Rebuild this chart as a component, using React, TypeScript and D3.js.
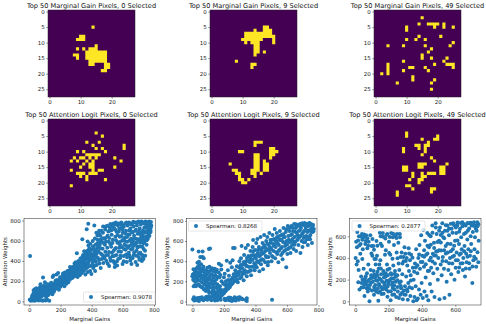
import React, { useEffect, useRef } from "react";
import * as d3 from "d3";

type Rows = [number, number[]][];
type Pt = [number, number];

const gridTicks = [0, 5, 10, 15, 20, 25];
const gridXTicks = [0, 10, 20];

const gridTitles = [
  "Top 50 Marginal Gain Pixels, 0 Selected",
  "Top 50 Marginal Gain Pixels, 9 Selected",
  "Top 50 Marginal Gain Pixels, 49 Selected",
  "Top 50 Attention Logit Pixels, 0 Selected",
  "Top 50 Attention Logit Pixels, 9 Selected",
  "Top 50 Attention Logit Pixels, 49 Selected",
];

// [row, columns lit in that row]
const gain0: Rows = [[5,[14]],[8,[10,11]],[9,[9,10,11]],[11,[15]],[12,[9,11,13,14,15]],[13,[12,13,14,15,16,17,18]],[14,[8,9,12,13,14,15,16,17,18]],[15,[9,12,13,14,15,16,17,18]],[16,[13,14,15,16,17,18]],[17,[13,14,18,19]],[18,[18,19]],[19,[17,18]]];
const gain9: Rows = [[5,[17,18]],[6,[14,17,18,19]],[7,[11,12,13,14,15,16,17,18,19]],[8,[11,12,13,14,15,16,17,18,19,20]],[9,[10,11,12,13,14,15,16,20]],[10,[11,13,14,15,20]],[11,[14,15]],[12,[14,15]],[13,[14,15,17]],[14,[14]],[16,[8]],[17,[13,14]],[18,[13]]];
const gain49: Rows = [[2,[15]],[4,[14,17,18,19,20,22]],[5,[10,19,22,25]],[6,[10]],[8,[14,21]],[9,[10,13,16]],[10,[25]],[11,[4,9,16,24]],[12,[18]],[13,[17]],[14,[15]],[15,[15,18,23]],[16,[9,22]],[17,[4,19,23,24,25]],[18,[4,11,12,16,25]],[19,[4,9,17]],[20,[2,4]],[21,[12]],[22,[12,19]],[23,[7,18]],[25,[18]]];
const logit0: Rows = [[4,[15]],[5,[17]],[7,[12,16]],[8,[14,24]],[9,[15,17,24]],[10,[9,11,18]],[11,[12,13,14,15,16]],[12,[8,10,11,13,15,21]],[13,[7,9,12,14,23]],[14,[11,13,14]],[15,[10,13,14,21]],[16,[7,14,16,17]],[17,[9,10,11,13,14,15]],[18,[10,12]],[19,[12,18]],[21,[7]]];
const logit9: Rows = [[7,[14,15,16]],[8,[14]],[9,[19,20]],[10,[9,10,19,20,21]],[11,[14,15,19,20]],[12,[14,15,19]],[13,[14,15,17]],[14,[6,14,15,17,18]],[15,[14,15,17,18]],[16,[7,8,13,14,15,17,18]],[17,[8,9,13,14,16]],[18,[9,14]],[19,[9,10,12]],[20,[10,11]]];
const logit49: Rows = [[4,[10]],[5,[10,20]],[6,[15,19,20]],[7,[17]],[8,[13,14,16,17]],[9,[9,14,16]],[10,[9,16]],[11,[15]],[12,[18]],[13,[19]],[14,[14,15,16,23]],[15,[9,10,14,15,21,22]],[16,[9,10,21,22]],[17,[12,15,17,18,19,21,22]],[18,[12,15,16]],[19,[11,14,15]],[20,[14]],[21,[10,11]],[22,[12,18,19]],[23,[7,18]],[24,[7]]];
const gridRows = [gain0, gain9, gain49, logit0, logit9, logit49];

const spearmanLabels = ["Spearman: 0.9078", "Spearman: 0.8268", "Spearman: 0.2877"];

const scatterA: Pt[] = [[5,450],[3,15],[10,5],[15,20],[22,8],[30,25],[35,5],[45,15],[50,40],[58,8],[62,30],[70,12],[78,45],[85,5],[95,12],[105,8],[115,15],[128,5],[20,60],[25,40],[28,110],[35,120],[40,85],[45,130],[48,60],[55,75],[60,55],[65,100],[68,140],[72,170],[75,125],[80,60],[82,95],[88,235],[90,80],[92,130],[95,155],[100,70],[100,190],[105,110],[108,45],[110,140],[115,85],[118,170],[120,60],[125,120],[128,95],[130,155],[135,80],[138,125],[140,185],[145,105],[148,70],[150,240],[152,140],[155,255],[158,95],[160,170],[165,120],[168,205],[170,150],[175,265],[178,130],[180,190],[185,280],[188,160],[190,115],[195,215],[198,180],[200,145],[205,235],[208,195],[210,165],[215,255],[218,215],[220,185],[225,150],[228,285],[230,240],[235,205],[238,175],[240,260],[245,300],[248,225],[250,190],[255,275],[258,245],[260,215],[265,320],[268,290],[270,255],[275,230],[278,340],[280,305],[285,270],[288,245],[290,375],[295,320],[298,285],[300,260],[305,475],[305,355],[308,315],[310,240],[315,400],[318,340],[320,290],[325,260],[328,425],[330,370],[335,310],[338,280],[340,615],[340,440],[345,460],[345,345],[350,300],[355,405],[358,370],[360,265],[362,480],[365,425],[368,714],[368,330],[372,500],[374,592],[375,290],[378,767],[378,385],[380,450],[385,525],[388,350],[390,300],[392,470],[395,420],[398,270],[400,510],[405,380],[408,545],[410,330],[412,440],[417,750],[418,490],[420,410],[422,300],[425,560],[428,465],[430,680],[432,360],[435,520],[438,610],[440,430],[445,490],[448,700],[450,375],[452,560],[455,650],[458,330],[460,470],[462,590],[465,420],[470,520],[472,680],[475,380],[478,440],[480,620],[485,560],[488,490],[490,740],[495,400],[500,530],[502,650],[505,460],[510,590],[512,350],[515,700],[518,430],[520,765],[525,540],[528,660],[530,480],[535,610],[538,400],[540,770],[545,720],[548,340],[550,520],[552,640],[555,780],[558,460],[560,690],[565,580],[568,750],[570,420],[575,770],[578,530],[580,640],[585,720],[588,490],[590,780],[595,600],[598,370],[600,680],[602,750],[605,450],[610,560],[612,630],[615,770],[618,510],[620,700],[625,390],[628,590],[630,750],[635,660],[638,480],[640,780],[645,550],[648,720],[650,430],[652,620],[655,370],[658,690],[660,770],[662,520],[665,590],[668,740],[670,460],[672,650],[675,560],[678,780],[680,700],[682,390],[685,620],[688,500],[690,750],[692,360],[695,670],[698,540],[700,790],[702,440],[705,610],[708,720],[710,580],[712,480],[715,760],[718,650],[720,790],[722,400],[725,540],[728,700],[730,620],[732,420],[735,770],[738,590],[740,680],[742,500],[745,790],[748,640],[750,730],[752,560],[755,780],[758,680],[760,620],[762,760],[765,710],[768,790],[770,650],[772,740],[775,770],[778,700],[780,785],[782,750],
[64,72],[87,118],[33,52],[41,33],[112,98],[97,61],[73,83],[121,131],[143,152],[133,112],[156,133],[167,178],[149,162],[172,171],[183,205],[177,212],[191,186],[203,222],[214,201],[197,238],[222,246],[233,228],[216,276],[243,247],[229,262],[251,288],[263,273],[247,263],[272,304],[283,292],[261,339],[293,348],[303,333],[277,268],[313,367],[321,341],[297,388],[333,392],[342,371],[327,322],[352,435],[363,412],[347,398],[373,462],[384,422],[358,344],[393,512],[403,465],[381,488],[413,531],[371,358],[423,507],[396,447],[352,496],[386,408],[409,406],[433,478],[419,352],[441,543],[447,409],[427,392],[456,526],[437,574],[468,458],[483,424],[459,612],[476,577],[492,456],[503,372],[511,488],[488,628],[522,402],[533,447],[547,378],[519,568],[541,502],[563,355],[556,527],[572,494],[583,428],[579,588],[594,538],[566,656],[607,517],[591,648],[621,463],[613,598],[633,531],[643,453],[627,638],[653,514],[663,428],[641,702],[673,487],[657,578],[686,451],[669,618],[693,533],[681,562],[703,473],[697,612],[713,542],[723,458],[707,668],[733,518],[717,598],[743,452],[727,648],[753,605],[737,728],[763,672],[747,762],[773,702],[757,742],[769,762],[779,732],[776,684],[761,778],[741,772],[727,782],[711,776],[693,783],[667,788],[651,762],[636,772],[622,781],[606,738],[593,752],[577,722],[561,765],[546,758],[532,742],[516,732],[501,748],[487,712],[473,742],[463,698],[447,668],[437,652],[421,622],[407,598],[391,571],[379,552],[507,691],[527,703],[551,708],[574,692],[598,712],[618,668],[643,662],[663,684],[684,708],[704,692],[727,673],[748,694],[766,644],[752,612],[731,574],[712,622],[688,582],[666,548],[644,602],[623,548],[602,612],[581,562],[556,604],[533,578],[512,628],[493,592],[472,624],[452,592],[544,448],[562,398],[584,452],[606,398],[627,436],[648,404],[706,412],[725,425],[733,451],
[52,92],[76,58],[93,97],[103,128],[126,78],[137,142],[161,148],[186,172],[206,176],[226,206],[241,218],[256,232],[268,242],[286,318],[306,288],[316,258],[336,338],[356,318],[366,372],[376,442],[389,462],[401,432],[416,462],[431,438],[376,342],[386,482],[402,352],[354,452],[336,422],[318,376],[288,336],[274,322],[254,302],[236,272],[212,236],[193,198],[174,188],[153,178],[134,168],[114,152],[84,142],[66,122],[57,108],[38,98],[27,82],[17,42],[9,22]];

const scatterB: Pt[] = [[0,515],[40,495],[65,495],[105,520],[112,525],[50,440],[65,440],[72,430],[0,250],[5,215],[8,150],[10,275],[14,240],[18,300],[20,195],[22,150],[25,260],[28,330],[30,225],[32,385],[35,290],[38,170],[40,250],[42,395],[45,210],[48,320],[50,150],[52,270],[55,370],[58,235],[60,190],[62,300],[65,135],[68,255],[70,345],[72,215],[75,170],[78,285],[80,120],[82,240],[85,310],[88,195],[90,150],[92,265],[95,335],[98,225],[100,110],[102,290],[105,175],[108,345],[110,245],[112,140],[115,310],[118,210],[120,90],[122,270],[125,330],[128,170],[130,120],[132,235],[135,300],[138,70],[140,200],[142,325],[145,260],[148,140],[150,90],[152,220],[155,315],[158,170],[160,60],[165,110],[168,375],[172,240],[175,150],[178,90],[182,360],[185,65],[185,200],[5,20],[10,40],[12,8],[25,25],[30,10],[42,5],[48,35],[55,20],[60,40],[70,10],[80,30],[88,45],[95,15],[105,50],[112,30],[120,10],[130,45],[140,20],[150,40],[158,10],[170,30],[180,15],[190,75],[195,95],[200,80],[205,115],[210,100],[215,130],[220,120],[225,150],[230,140],[235,165],[240,160],[195,175],[200,240],[205,275],[212,200],[218,405],[225,310],[232,255],[240,385],[245,215],[250,340],[255,410],[258,530],[268,530],[205,25],[215,15],[225,30],[235,10],[242,35],[250,5],[258,25],[268,40],[275,8],[285,30],[295,15],[300,40],[318,20],[345,5],[345,30],[505,15],[255,180],[262,270],[268,200],[272,310],[278,250],[282,350],[288,190],[292,290],[298,400],[302,230],[305,330],[308,430],[312,550],[315,270],[320,370],[325,210],[328,460],[332,310],[338,530],[340,400],[345,250],[348,350],[352,560],[355,450],[360,300],[365,390],[368,500],[372,260],[375,420],[378,345],[382,540],[385,610],[388,460],[392,380],[395,310],[398,510],[402,430],[405,580],[408,340],[412,620],[415,480],[418,390],[422,540],[425,300],[428,450],[432,640],[435,370],[438,510],[442,420],[445,580],[448,320],[452,480],[455,660],[458,540],[462,390],[465,450],[468,600],[472,510],[475,640],[478,360],[482,440],[485,560],[488,680],[492,480],[495,610],[498,530],[502,400],[505,450],[508,660],[512,570],[515,500],[518,620],[522,720],[525,430],[528,540],[532,600],[535,680],[538,470],[542,640],[545,390],[548,560],[552,510],[555,700],[558,610],[562,460],[565,660],[568,540],[572,420],[575,590],[578,730],[582,500],[585,640],[588,550],[592,690],[595,340],[598,600],[602,470],[605,750],[608,650],[612,530],[615,700],[618,590],[622,480],[625,660],[628,750],[632,560],[635,620],[638,700],[642,520],[645,770],[648,640],[652,590],[655,730],[658,500],[662,680],[665,610],[668,760],[672,560],[675,700],[678,640],[682,770],[685,480],[688,730],[692,600],[695,670],[698,540],[702,760],[705,630],[708,700],[712,780],[715,590],[718,730],[722,650],[725,770],[728,690],[732,560],[735,750],[738,620],[742,780],[745,710],[748,660],[752,770],[755,730],[758,580],[762,690],[765,760],[770,720],
[3,268],[16,278],[27,206],[37,262],[47,288],[57,244],[67,320],[77,212],[87,262],[97,298],[107,232],[117,268],[127,308],[137,258],[147,292],[157,244],[167,288],[177,262],[183,318],[12,206],[24,322],[34,342],[44,356],[54,326],[64,232],[74,296],[84,178],[94,206],[104,152],[114,178],[124,202],[134,146],[144,180],[154,132],[164,154],[174,116],[184,112],[17,162],[7,320],[44,158],[58,142],[74,118],[86,102],[96,126],[106,86],[126,58],[136,102],[146,46],[156,62],[166,84],[176,48],[185,55],[192,70],[197,88],[203,92],[208,108],[213,112],[218,128],[223,136],[228,128],[233,152],[238,144],[243,172],[248,168],[253,186],[221,18],[231,38],[247,22],[263,12],[281,18],[291,38],[311,28],[338,14],[208,12],[267,26],[143,8],[163,26],[88,22],[34,34],[18,12],[208,162],[216,172],[226,212],[236,198],[262,222],[271,248],[283,214],[291,262],[301,298],[311,242],[321,292],[331,278],[341,352],[351,292],[361,342],[371,308],[381,412],[391,342],[401,362],[411,398],[421,452],[431,408],[441,472],[451,412],[461,498],[471,438],[481,392],[491,532],[501,518],[511,442],[521,566],[531,488],[541,578],[551,612],[561,528],[571,482],[581,638],[591,512],[601,568],[611,612],[621,538],[631,668],[641,592],[651,692],[661,742],[671,628],[681,708],[691,762],[701,682],[711,642],[721,752],[731,702],[741,642],[751,698],[761,742],[767,698],[756,762],[736,772],[716,762],[696,778],[676,752],[656,768],[636,732],[616,732],[596,718],[576,668],[556,652],[536,638],[516,552],[496,582],[476,572],[456,558],[436,482],[416,512],[396,442],[376,458],[356,402],[336,368],[316,332],[296,338],[276,282],[256,238],[286,288],[306,362],[326,392],[346,432],[366,432],[386,498],[406,462],[426,518],[446,532],[466,528],[486,512],[506,612],[526,602],[546,502],[566,612],[586,582],[606,522],[626,602],[646,562],[666,658],[686,652],[706,588],[726,618],[746,618]];

const scatterC: Pt[] = [[2,400],[5,550],[8,340],[10,500],[12,640],[15,370],[18,175],[20,290],[22,600],[25,110],[28,690],[30,440],[32,530],[35,230],[38,170],[40,620],[42,390],[45,480],[48,130],[50,300],[52,590],[55,50],[58,210],[60,530],[62,160],[65,610],[68,120],[70,260],[72,490],[75,90],[78,340],[80,550],[82,200],[85,0],[88,150],[90,610],[92,290],[95,240],[98,510],[100,100],[102,420],[105,180],[108,510],[110,280],[112,60],[115,390],[118,220],[120,150],[122,340],[125,90],[128,250],[130,420],[132,190],[135,120],[138,5],[140,300],[142,160],[145,210],[148,90],[150,380],[152,600],[155,250],[158,130],[160,510],[162,180],[165,630],[168,280],[170,70],[172,220],[175,150],[178,430],[180,580],[182,260],[185,110],[188,190],[190,340],[192,620],[195,240],[198,90],[200,160],[202,550],[205,300],[208,200],[210,430],[212,10],[215,630],[218,250],[220,150],[222,60],[225,590],[228,330],[230,210],[232,520],[235,110],[238,280],[240,600],[242,180],[245,40],[248,450],[250,620],[252,240],[255,90],[258,540],[260,350],[262,30],[265,170],[268,590],[270,60],[272,410],[275,120],[278,450],[280,80],[282,250],[285,20],[288,410],[290,370],[292,100],[295,500],[298,140],[300,440],[302,60],[305,230],[308,400],[310,110],[312,330],[315,15],[318,170],[320,490],[322,280],[325,130],[328,380],[330,50],[332,240],[335,430],[340,120],[345,310],[348,0],[350,200],[355,40],[358,350],[362,140],[365,480],[368,10],[372,260],[375,25],[378,400],[382,110],[385,520],[388,300],[392,60],[395,610],[398,170],[402,420],[405,30],[408,660],[412,320],[415,90],[418,560],[422,220],[425,430],[428,50],[432,630],[435,280],[438,10],[442,500],[445,380],[448,160],[452,600],[455,310],[458,90],[462,700],[465,440],[468,260],[472,540],[475,40],[478,350],[482,720],[485,460],[488,620],[492,300],[495,200],[498,400],[502,560],[505,20],[508,680],[512,340],[515,470],[518,240],[522,720],[525,410],[528,590],[532,300],[535,30],[538,650],[542,510],[545,370],[548,180],[552,700],[555,450],[558,290],[562,610],[565,60],[568,400],[572,530],[575,250],[578,670],[582,350],[585,480],[588,720],[592,420],[595,200],[598,560],[602,310],[605,630],[608,450],[612,700],[615,380],[618,270],[622,530],[625,430],[628,670],[632,350],[635,590],[638,480],[642,730],[645,290],[648,400],[652,620],[655,510],[658,230],[662,700],[665,440],[668,360],[672,570],[675,650],[678,480],[682,720],[685,300],[688,420],[692,600],[695,530],[698,700],[702,170],[705,640],[708,380],[712,730],[715,480],[718,590],[722,700],[725,320],[728,650],[732,730],[738,360],[740,560],
[37,128],[43,198],[54,152],[63,232],[74,186],[83,118],[94,172],[103,218],[113,132],[124,194],[133,236],[144,148],[153,198],[163,112],[174,172],[183,228],[194,136],[203,186],[213,258],[224,174],[233,146],[243,228],[253,194],[264,288],[273,142],[224,122],[193,292],[173,252],[153,302],[133,272],[113,246],[93,212],[73,148],[57,182],[117,108],[137,82],[157,68],[177,122],[197,162],[217,212],[237,252],[144,340],[123,390],[97,442],[77,512],[63,556],[42,568],[24,516],[17,562],[33,598],[53,616],[73,582],[103,574],[127,556],[147,632],[167,596],[187,612],[207,594],[227,624],[247,584],[267,622],[112,476],[132,512],[152,532],[183,472],[203,446],[223,392],[253,398],[283,348],[303,372],[323,442],[343,402],[363,312],[383,432],[403,362],[423,342],[443,282],[463,368],[483,422],[503,472],[523,372],[543,442],[563,352],[583,412],[603,378],[623,312],[643,352],[663,302],[683,352],[703,322],[723,392],[413,472],[433,512],[453,402],[473,492],[493,548],[513,612],[533,472],[553,532],[573,462],[593,512],[613,562],[633,442],[653,462],[673,412],[693,462],[713,412],[733,452],[443,612],[463,632],[483,682],[503,652],[523,632],[543,702],[563,672],[583,632],[603,682],[623,642],[643,692],[663,632],[683,672],[703,702],[723,672],[738,712],[733,692],[713,696],[693,726],[673,722],[653,712],[633,722],[613,728],[593,702],[573,716],[553,652],[533,582],[513,542],[493,462],[473,422],[453,522],[433,442],[413,412],[393,362],[373,332],[353,272],[333,192],[313,92],[293,62],[273,182],[253,132],[233,62],[213,92],[193,42]];

const scatterSets = [scatterA, scatterB, scatterC];

// pixel boxes
const gridLefts = [48, 210, 374];
const gridTops = [10, 119];
const gridSize = 87;
const scatterBoxes = [
  { left: 24, right: 155.3, xDomain: [-34, 808], yDomain: [-36, 822], xTicks: [0, 200, 400, 600, 800], yTicks: [0, 200, 400, 600, 800], legend: [83.5, 155, 292, 302] },
  { left: 186.7, right: 317, xDomain: [-36, 790], yDomain: [-36, 826], xTicks: [0, 200, 400, 600, 800], yTicks: [0, 200, 400, 600, 800], legend: [188.5, 262, 221, 231] },
  { left: 349.3, right: 481, xDomain: [-36, 754], yDomain: [-34, 766], xTicks: [0, 200, 400, 600], yTicks: [0, 200, 400, 600], legend: [352, 425, 221, 231] },
];
const scatterTop = 218.3;
const scatterBottom = 305;

const font = "'DejaVu Sans', sans-serif";

function styleAxis(g: any) {
  g.select(".domain").remove();
  g.selectAll("line").attr("stroke", "#222").attr("stroke-width", 0.5);
  g.selectAll("text").attr("font-family", font).attr("font-size", 5.5).attr("fill", "#222");
}

function spines(svg: any, x0: number, x1: number, y0: number, y1: number) {
  svg.append("rect").attr("x", x0).attr("y", y0).attr("width", x1 - x0).attr("height", y1 - y0)
    .attr("fill", "none").attr("stroke", "#222").attr("stroke-width", 0.5);
}

export default function App() {
  const svgRef = useRef<SVGSVGElement>(null);

  useEffect(() => {
    const svg = d3.select(svgRef.current);
    svg.selectAll("*").remove();

    // pixel maps
    gridRows.forEach((rows, i) => {
      const left = gridLefts[i % 3];
      const top = gridTops[Math.floor(i / 3)];
      const x = d3.scaleLinear().domain([-0.5, 27.5]).range([left, left + gridSize]);
      const y = d3.scaleLinear().domain([-0.5, 27.5]).range([top, top + gridSize]);

      svg.append("rect").attr("x", left).attr("y", top).attr("width", gridSize).attr("height", gridSize)
        .attr("fill", d3.interpolateViridis(0));

      const cells = d3.path();
      rows.forEach(([row, cols]) => {
        cols.forEach((c) => {
          cells.rect(x(c - 0.5), y(row - 0.5), x(c + 0.5) - x(c - 0.5), y(row + 0.5) - y(row - 0.5));
        });
      });
      svg.append("path").attr("d", cells.toString()).attr("fill", d3.interpolateViridis(1));

      spines(svg, left, left + gridSize, top, top + gridSize);

      svg.append("g").attr("transform", `translate(0,${top + gridSize})`)
        .call(d3.axisBottom(x).tickValues(gridXTicks).tickSize(1.7).tickPadding(1.5))
        .call(styleAxis);
      svg.append("g").attr("transform", `translate(${left},0)`)
        .call(d3.axisLeft(y).tickValues(gridTicks).tickSize(1.7).tickPadding(1.5))
        .call(styleAxis);

      svg.append("text").attr("x", left + gridSize / 2).attr("y", top - 2.5)
        .attr("text-anchor", "middle").attr("font-family", font).attr("font-size", 6.6).attr("fill", "#111")
        .text(gridTitles[i]);
    });

    // scatter row
    scatterSets.forEach((points, i) => {
      const box = scatterBoxes[i];
      const x = d3.scaleLinear().domain(box.xDomain).range([box.left, box.right]);
      const y = d3.scaleLinear().domain(box.yDomain).range([scatterBottom, scatterTop]);

      svg.append("g").selectAll("circle").data(points).join("circle")
        .attr("cx", (d) => x(d[0])).attr("cy", (d) => y(d[1])).attr("r", 2).attr("fill", "#1f77b4");

      spines(svg, box.left, box.right, scatterTop, scatterBottom);

      svg.append("g").attr("transform", `translate(0,${scatterBottom})`)
        .call(d3.axisBottom(x).tickValues(box.xTicks).tickSize(1.7).tickPadding(1.5))
        .call(styleAxis);
      svg.append("g").attr("transform", `translate(${box.left},0)`)
        .call(d3.axisLeft(y).tickValues(box.yTicks).tickSize(1.7).tickPadding(1.5))
        .call(styleAxis);

      svg.append("text").attr("x", (box.left + box.right) / 2).attr("y", 321)
        .attr("text-anchor", "middle").attr("font-family", font).attr("font-size", 5.5).attr("fill", "#111")
        .text("Marginal Gains");
      svg.append("text")
        .attr("transform", `translate(${box.left - 17.5},${(scatterTop + scatterBottom) / 2}) rotate(-90)`)
        .attr("text-anchor", "middle").attr("font-family", font).attr("font-size", 5.5).attr("fill", "#111")
        .text("Attention Weights");

      const [lx0, lx1, ly0, ly1] = box.legend;
      svg.append("rect").attr("x", lx0).attr("y", ly0).attr("width", lx1 - lx0).attr("height", ly1 - ly0)
        .attr("rx", 1).attr("fill", "#fff").attr("fill-opacity", 0.8).attr("stroke", "#ccc").attr("stroke-width", 0.5);
      svg.append("circle").attr("cx", lx0 + 7.5).attr("cy", (ly0 + ly1) / 2).attr("r", 2).attr("fill", "#1f77b4");
      svg.append("text").attr("x", lx0 + 17.5).attr("y", (ly0 + ly1) / 2 + 2)
        .attr("font-family", font).attr("font-size", 5.5).attr("fill", "#111").text(spearmanLabels[i]);
    });
  }, []);

  return <svg ref={svgRef} width={486} height={324} style={{ position: "absolute", left: 0, top: 0, background: "#fff" }} />;
}
